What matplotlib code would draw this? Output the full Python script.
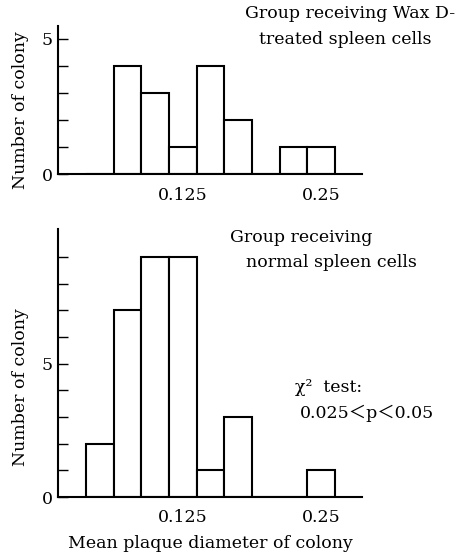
#!/usr/bin/env python

import matplotlib
matplotlib.use("Agg")
import matplotlib.pyplot as plt

# bin centres (mean plaque diameter), bin width 0.025
bin_centers = [0.05, 0.075, 0.1, 0.125, 0.15, 0.175, 0.2, 0.225, 0.25]
bin_width = 0.025

# number of colonies per bin
wax_counts = [0, 4, 3, 1, 4, 2, 0, 1, 1]
normal_counts = [2, 7, 9, 9, 1, 3, 0, 0, 1]

x_ticks = [0.125, 0.25]
x_labels = ["0.125", "0.25"]

W, H = 466, 556
FONT = "DejaVu Serif"
FS = 12.5


def fx(px):
    return px / W


def fy(py):
    return 1 - py / H


def style_axes(ax, ymax, yticks, label_y):
    ax.spines["top"].set_visible(False)
    ax.spines["right"].set_visible(False)
    ax.spines["left"].set_linewidth(1.5)
    ax.spines["bottom"].set_linewidth(1.5)
    ax.set_xlim(0.012, 0.287)
    ax.set_ylim(0, ymax)
    ax.set_yticks(yticks)
    ax.set_yticklabels(["0" if t == 0 else ("5" if t == 5 else "") for t in yticks],
                       fontfamily=FONT, fontsize=FS)
    ax.set_xticks(x_ticks)
    ax.set_xticklabels(x_labels, fontfamily=FONT, fontsize=FS)
    ax.tick_params(axis="y", direction="in", length=7, width=1, pad=4)
    ax.tick_params(axis="x", direction="in", length=4, width=1, pad=9)
    ax.set_ylabel("Number of colony", fontfamily=FONT, fontsize=FS)
    ax.yaxis.set_label_coords(-0.097, label_y)


def draw_bars(ax, counts):
    ax.bar(bin_centers, counts, width=bin_width, color="white",
           edgecolor="black", linewidth=1.5, zorder=2)


fig = plt.figure(figsize=(W / 100, H / 100), dpi=100)

ax1 = fig.add_axes([fx(58), fy(174), fx(362) - fx(58), fy(26) - fy(174)])
draw_bars(ax1, wax_counts)
style_axes(ax1, 5.48, range(6), 0.43)

ax2 = fig.add_axes([fx(58), fy(497), fx(362) - fx(58), fy(229) - fy(497)])
draw_bars(ax2, normal_counts)
style_axes(ax2, 10.05, range(10), 0.41)
ax2.set_xlabel("Mean plaque diameter of colony", fontfamily=FONT, fontsize=FS, labelpad=6)

fig.text(fx(455), fy(14), "Group receiving Wax D-", ha="right", va="center",
         fontfamily=FONT, fontsize=FS)
fig.text(fx(259), fy(40), "treated spleen cells", ha="left", va="center",
         fontfamily=FONT, fontsize=FS)
fig.text(fx(230), fy(238), "Group receiving", ha="left", va="center",
         fontfamily=FONT, fontsize=FS)
fig.text(fx(246), fy(263), "normal spleen cells", ha="left", va="center",
         fontfamily=FONT, fontsize=FS)
fig.text(fx(295), fy(387), "χ²  test:", ha="left", va="center",
         fontfamily=FONT, fontsize=FS)
fig.text(fx(300), fy(413), "0.025＜p＜0.05", ha="left", va="center",
         fontfamily=[FONT, "Noto Sans CJK JP"], fontsize=FS)

fig.savefig("out.png", dpi=100)
